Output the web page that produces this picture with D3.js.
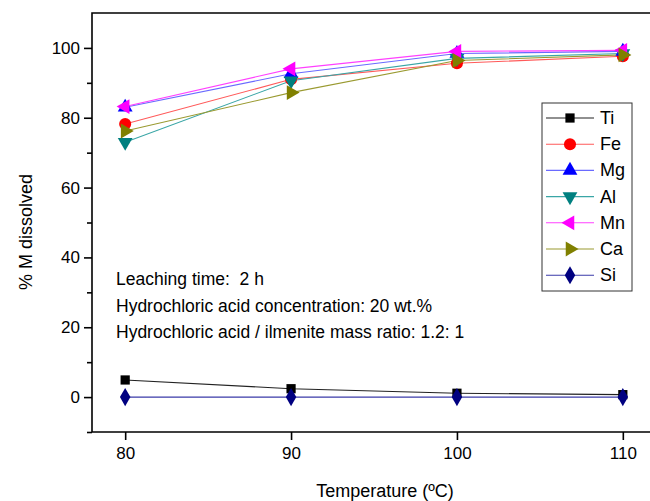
<!DOCTYPE html>
<html>
<head>
<meta charset="utf-8">
<script src="https://cdn.jsdelivr.net/npm/d3@7"></script>
<style>
  body { margin: 0; background: #fff; overflow: hidden; }
  svg { display: block; }
  text { font-family: "Liberation Sans", Arial, sans-serif; }
</style>
</head>
<body>
<div id="chart-area"></div>
<script>
// temperatures (x) and % dissolved per metal
let temps = [80, 90, 100, 110];
let metals = ["Ti", "Fe", "Mg", "Al", "Mn", "Ca", "Si"];
let ti = [4.9, 2.4, 1.1, 0.7];
let fe = [78.2, 91, 95.6, 97.6];
let mg = [83, 92.6, 98.4, 99];
let al = [73, 90.6, 97, 98.4];
let mn = [83.2, 94, 99, 99.3];
let ca = [76.2, 87.2, 96.4, 98];
let si = [0, 0, 0, 0];
let yTicks = [0, 20, 40, 60, 80, 100];
let xTicks = [80, 90, 100, 110];
let notes = ["Leaching time:  2 h",
             "Hydrochloric acid concentration: 20 wt.%",
             "Hydrochloric acid / ilmenite mass ratio: 1.2: 1"];

let series = [
  {name: "Ti", values: ti, line: "#222", fill: "#000", shape: d3.symbolSquare, rot: 0, size: 85},
  {name: "Fe", values: fe, line: "#ff5a5a", fill: "#ff0000", shape: d3.symbolCircle, rot: 0, size: 115},
  {name: "Mg", values: mg, line: "#6a6aff", fill: "#0000ff", shape: d3.symbolTriangle, rot: 0, size: 95},
  {name: "Al", values: al, line: "#3aa6a6", fill: "#008080", shape: d3.symbolTriangle, rot: 180, size: 95},
  {name: "Mn", values: mn, line: "#ff40ff", fill: "#ff00ff", shape: d3.symbolTriangle, rot: -90, size: 95},
  {name: "Ca", values: ca, line: "#9a9a30", fill: "#808000", shape: d3.symbolTriangle, rot: 90, size: 95},
  {name: "Si", values: si, line: "#3a3aa8", fill: "#000080", shape: d3.symbolDiamond, rot: 0, size: 95}
];

let svg = d3.select("#chart-area")
            .append("svg")
            .attr("width", 650)
            .attr("height", 501);

let x = d3.scaleLinear()
        .domain([78, 112])
        .range([92, 656]);

let y = d3.scaleLinear()
        .domain([-10, 110])
        .range([432, 13]);

// frame: left, top and bottom (right side is cut off in the picture)
let frame = [[x(112), y(110)], [x(78), y(110)], [x(78), y(-10)], [x(112), y(-10)]];
svg.append("path")
   .attr("d", d3.line()(frame))
   .attr("fill", "none").attr("stroke", "#000").attr("stroke-width", 1.6);

// y axis
let yAxis = svg.append("g")
   .attr("transform", "translate(" + x(78) + ",0)")
   .call(d3.axisLeft(y).tickValues(yTicks).tickSize(8).tickPadding(4));
yAxis.select(".domain").remove();
yAxis.selectAll("line").attr("stroke-width", 1.6);
yAxis.selectAll("text").attr("font-size", 17).attr("fill", "#000");

svg.append("g")
   .attr("transform", "translate(" + x(78) + ",0)")
   .call(d3.axisLeft(y).tickValues([-10, 10, 30, 50, 70, 90]).tickSize(5).tickFormat(""))
   .call(g => g.select(".domain").remove())
   .selectAll("line").attr("stroke-width", 1.6);

// x axis
let xAxis = svg.append("g")
   .attr("transform", "translate(0," + y(-10) + ")")
   .call(d3.axisBottom(x).tickValues(xTicks).tickSize(8).tickPadding(7));
xAxis.select(".domain").remove();
xAxis.selectAll("line").attr("stroke-width", 1.6);
xAxis.selectAll("text").attr("font-size", 17).attr("fill", "#000");

svg.append("text")
   .attr("x", 385).attr("y", 497)
   .attr("text-anchor", "middle").attr("font-size", 18)
   .text("Temperature (ºC)");

svg.append("text")
   .attr("transform", "translate(32,232) rotate(-90)")
   .attr("text-anchor", "middle").attr("font-size", 18)
   .text("% M dissolved");

// lines and markers
let line = d3.line()
   .x((d, i) => x(temps[i]))
   .y(d => y(d));

series.forEach(s => {
  svg.append("path")
     .attr("d", line(s.values))
     .attr("fill", "none")
     .attr("stroke", s.line)
     .attr("stroke-width", 1.1);
});

series.forEach(s => {
  svg.selectAll(null)
     .data(s.values)
     .enter()
     .append("path")
     .attr("d", d3.symbol().type(s.shape).size(s.size))
     .attr("transform", (d, i) => "translate(" + x(temps[i]) + "," + y(d) + ") rotate(" + s.rot + ")")
     .attr("fill", s.fill);
});

// notes
svg.selectAll(".note")
   .data(notes)
   .enter()
   .append("text")
   .attr("class", "note")
   .attr("x", 116)
   .attr("y", (d, i) => 285 + i * 26.5)
   .attr("font-size", 17.5)
   .style("white-space", "pre")
   .text(d => d);

// legend
let legend = svg.append("g").attr("transform", "translate(542,103)");
legend.append("rect")
   .attr("width", 90).attr("height", 188)
   .attr("fill", "#fff").attr("stroke", "#333").attr("stroke-width", 1);

let items = legend.selectAll(".item")
   .data(series)
   .enter()
   .append("g")
   .attr("transform", (d, i) => "translate(0," + (15 + i * 26.2) + ")");

items.append("line")
   .attr("x1", 4).attr("x2", 52)
   .attr("stroke", d => d.line).attr("stroke-width", 1.1);
items.append("path")
   .attr("d", d => d3.symbol().type(d.shape).size(d.size)())
   .attr("transform", d => "translate(28,0) rotate(" + d.rot + ")")
   .attr("fill", d => d.fill);
items.append("text")
   .attr("x", 58).attr("y", 6)
   .attr("font-size", 18)
   .text(d => d.name);
</script>
</body>
</html>
